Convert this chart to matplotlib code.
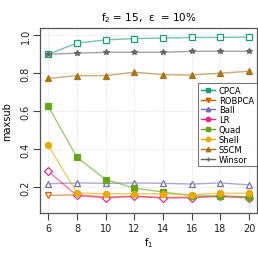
import matplotlib
matplotlib.use("Agg")
import matplotlib.pyplot as plt
from matplotlib.lines import Line2D

f1 = [6, 8, 10, 12, 14, 16, 18, 20]
methods = ["CPCA", "ROBPCA", "Ball", "LR", "Quad", "Shell", "SSCM", "Winsor"]
CPCA = [0.900, 0.958, 0.975, 0.982, 0.985, 0.988, 0.988, 0.990]
ROBPCA = [0.156, 0.160, 0.148, 0.152, 0.145, 0.148, 0.155, 0.148]
Ball = [0.218, 0.222, 0.220, 0.222, 0.220, 0.216, 0.222, 0.212]
LR = [0.283, 0.156, 0.143, 0.151, 0.143, 0.143, 0.151, 0.143]
Quad = [0.625, 0.357, 0.240, 0.195, 0.174, 0.155, 0.151, 0.146]
Shell = [0.420, 0.169, 0.165, 0.165, 0.165, 0.160, 0.168, 0.168]
SSCM = [0.772, 0.787, 0.787, 0.805, 0.792, 0.790, 0.800, 0.810]
Winsor = [0.900, 0.905, 0.910, 0.910, 0.910, 0.915, 0.915, 0.915]
series = [CPCA, ROBPCA, Ball, LR, Quad, Shell, SSCM, Winsor]

colors = ["#1B9E77", "#D95F02", "#7570B3", "#E7298A", "#66A61E", "#E6AB02", "#A6761D", "#666666"]
markers = ["s", "v", "^", "D", "s", "o", "^", "*"]
filled = [False, False, False, False, True, True, True, True]
msizes = [4.4, 4.4, 4.7, 3.8, 4.4, 4.4, 4.7, 4.0]

fig = plt.figure(figsize=(2.58, 2.55), dpi=100)
ax = fig.add_axes([0.156, 0.161, 0.84, 0.724])

for x in f1:
    ax.axvline(x, color="#d0d0d0", lw=0.6, ls=(0, (1, 2)), zorder=0)
for y in [0.2, 0.4, 0.6, 0.8, 1.0]:
    ax.axhline(y, color="#d0d0d0", lw=0.6, ls=(0, (1, 2)), zorder=0)

for vals, c, m, f, ms in zip(series, colors, markers, filled, msizes):
    ax.plot(f1, vals, color=c, lw=1.0, alpha=0.6, zorder=2)
    ax.plot(f1, vals, ls="none", marker=m, ms=ms, mec=c,
            mfc=c if f else "white", mew=0.9, zorder=3)

ax.set_xlim(5.44, 20.56)
ax.set_ylim(0.064, 1.036)
ax.set_xticks(f1)
ax.set_yticks([0.2, 0.4, 0.6, 0.8, 1.0])
ax.set_yticklabels(["0.2", "0.4", "0.6", "0.8", "1.0"], rotation=90, va="center")
ax.tick_params(axis="both", direction="out", length=5, width=0.8, color="#444444",
               labelsize=7, labelcolor="#222222", pad=2)
for s in ax.spines.values():
    s.set_color("#555555")
    s.set_linewidth(0.9)

ax.set_xlabel("f$_1$", fontsize=7, labelpad=2)
ax.set_ylabel("maxsub", fontsize=7, labelpad=6)
fig.text(0.576, 0.93, "f$_2$ = 15,  \u03b5  = 10%", ha="center", va="center", fontsize=7.5)

handles = [Line2D([0], [0], color=c, lw=1.0, marker=m, ms=3.2, mfc=c, mec=c)
           for c, m in zip(colors, ["s", "v", "^", "o", "s", "o", "^", "+"])]
leg = ax.legend(handles, methods, loc="upper right", bbox_to_anchor=(1.0, 0.705),
                fontsize=6.0, frameon=True, fancybox=False, borderpad=0.35,
                labelspacing=0.1, handlelength=1.7, handletextpad=0.5,
                borderaxespad=0.0)
leg.get_frame().set_edgecolor("#555555")
leg.get_frame().set_linewidth(0.8)

fig.savefig("out.png", dpi=100)
